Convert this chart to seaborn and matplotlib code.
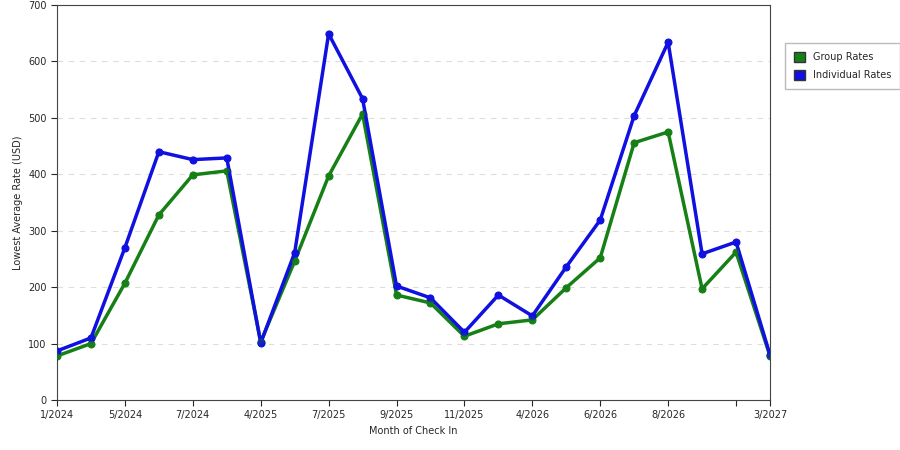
import matplotlib
matplotlib.use("Agg")
import matplotlib.pyplot as plt
import seaborn as sns
import pandas as pd
from matplotlib.patches import Patch

tick_labels = ["1/2024", "", "5/2024", "", "7/2024", "", "4/2025", "", "7/2025", "", "9/2025", "",
               "11/2025", "", "4/2026", "", "6/2026", "", "8/2026", "", "", "3/2027"]
group = [78, 100, 207, 328, 399, 406, 103, 246, 397, 507, 186, 172, 113, 135, 142, 199, 252, 456, 475, 197, 262, 78]
individual = [87, 110, 270, 440, 426, 429, 101, 261, 649, 534, 202, 181, 120, 186, 149, 236, 319, 504, 634, 259, 280, 80]

n = len(group)
df = pd.DataFrame({"idx": list(range(n)) * 2,
                   "rate": group + individual,
                   "series": ["Group Rates"] * n + ["Individual Rates"] * n})

sns.set_style("white")
plt.rcParams['font.family'] = ['DejaVu Sans']
fig = plt.figure(figsize=(9, 4.5), dpi=100)
ax = fig.add_axes([57/900, 50/450, 713/900, 395/450])
colors = {"Group Rates": "#168016", "Individual Rates": "#1010e0"}
sns.lineplot(data=df, x="idx", y="rate", hue="series", palette=colors, ax=ax,
             linewidth=2.5, marker="o", markersize=5, markeredgecolor=None, legend=False)
for s, c in colors.items():
    sub = df[df.series == s]
    ax.scatter(sub.idx, sub.rate, s=22, color=c, alpha=0.5, edgecolor="none", zorder=5)

ax.set_xlim(0, n - 1)
ax.set_ylim(0, 700)
ticks = [i for i in range(n) if i % 2 == 0] + [n - 1]
ax.set_xticks(ticks)
ax.set_xticklabels([tick_labels[i] for i in ticks], fontsize=7)
ax.set_yticks(range(0, 701, 100))
ax.tick_params(axis='y', labelsize=7, length=4, left=True)
ax.tick_params(axis='x', length=4, bottom=True)
ax.yaxis.grid(True, linestyle=(0, (5, 5)), color="#dddddd", linewidth=0.8)
for sp in ax.spines.values():
    sp.set_color("#444444"); sp.set_linewidth(0.8)
ax.set_xlabel("Month of Check In", fontsize=7)
ax.set_ylabel("Lowest Average Rate (USD)", fontsize=7)

handles = [Patch(facecolor=c, edgecolor="#333333", label=s) for s, c in colors.items()]
fig.legend(handles=handles, loc="upper left", bbox_to_anchor=(780/900, 412/450),
           fontsize=7, frameon=True, fancybox=False, edgecolor="#aaaaaa",
           handlelength=1.2, handleheight=1.2, borderpad=0.9, labelspacing=0.8)
fig.savefig("out.png", dpi=100)
